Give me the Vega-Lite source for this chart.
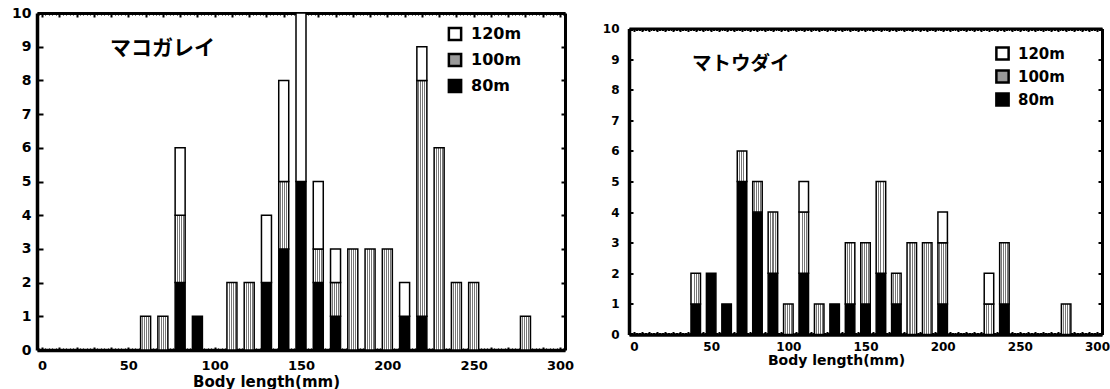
{
  "$schema": "https://vega.github.io/schema/vega-lite/v6.json",
  "background": "white",
  "padding": {"left": 11, "top": 6, "right": 0, "bottom": 0},
  "data": {"values": [
    {"species": "マコガレイ", "length": 60, "depth": "100m", "count": 1},
    {"species": "マコガレイ", "length": 70, "depth": "100m", "count": 1},
    {"species": "マコガレイ", "length": 80, "depth": "80m", "count": 2},
    {"species": "マコガレイ", "length": 80, "depth": "100m", "count": 2},
    {"species": "マコガレイ", "length": 80, "depth": "120m", "count": 2},
    {"species": "マコガレイ", "length": 90, "depth": "80m", "count": 1},
    {"species": "マコガレイ", "length": 110, "depth": "100m", "count": 2},
    {"species": "マコガレイ", "length": 120, "depth": "100m", "count": 2},
    {"species": "マコガレイ", "length": 130, "depth": "80m", "count": 2},
    {"species": "マコガレイ", "length": 130, "depth": "120m", "count": 2},
    {"species": "マコガレイ", "length": 140, "depth": "80m", "count": 3},
    {"species": "マコガレイ", "length": 140, "depth": "100m", "count": 2},
    {"species": "マコガレイ", "length": 140, "depth": "120m", "count": 3},
    {"species": "マコガレイ", "length": 150, "depth": "80m", "count": 5},
    {"species": "マコガレイ", "length": 150, "depth": "120m", "count": 5},
    {"species": "マコガレイ", "length": 160, "depth": "80m", "count": 2},
    {"species": "マコガレイ", "length": 160, "depth": "100m", "count": 1},
    {"species": "マコガレイ", "length": 160, "depth": "120m", "count": 2},
    {"species": "マコガレイ", "length": 170, "depth": "80m", "count": 1},
    {"species": "マコガレイ", "length": 170, "depth": "100m", "count": 1},
    {"species": "マコガレイ", "length": 170, "depth": "120m", "count": 1},
    {"species": "マコガレイ", "length": 180, "depth": "100m", "count": 3},
    {"species": "マコガレイ", "length": 190, "depth": "100m", "count": 3},
    {"species": "マコガレイ", "length": 200, "depth": "100m", "count": 3},
    {"species": "マコガレイ", "length": 210, "depth": "80m", "count": 1},
    {"species": "マコガレイ", "length": 210, "depth": "120m", "count": 1},
    {"species": "マコガレイ", "length": 220, "depth": "80m", "count": 1},
    {"species": "マコガレイ", "length": 220, "depth": "100m", "count": 7},
    {"species": "マコガレイ", "length": 220, "depth": "120m", "count": 1},
    {"species": "マコガレイ", "length": 230, "depth": "100m", "count": 6},
    {"species": "マコガレイ", "length": 240, "depth": "100m", "count": 2},
    {"species": "マコガレイ", "length": 250, "depth": "100m", "count": 2},
    {"species": "マコガレイ", "length": 280, "depth": "100m", "count": 1},
    {"species": "マトウダイ", "length": 40, "depth": "80m", "count": 1},
    {"species": "マトウダイ", "length": 40, "depth": "100m", "count": 1},
    {"species": "マトウダイ", "length": 50, "depth": "80m", "count": 2},
    {"species": "マトウダイ", "length": 60, "depth": "80m", "count": 1},
    {"species": "マトウダイ", "length": 70, "depth": "80m", "count": 5},
    {"species": "マトウダイ", "length": 70, "depth": "100m", "count": 1},
    {"species": "マトウダイ", "length": 80, "depth": "80m", "count": 4},
    {"species": "マトウダイ", "length": 80, "depth": "100m", "count": 1},
    {"species": "マトウダイ", "length": 90, "depth": "80m", "count": 2},
    {"species": "マトウダイ", "length": 90, "depth": "100m", "count": 2},
    {"species": "マトウダイ", "length": 100, "depth": "100m", "count": 1},
    {"species": "マトウダイ", "length": 110, "depth": "80m", "count": 2},
    {"species": "マトウダイ", "length": 110, "depth": "100m", "count": 2},
    {"species": "マトウダイ", "length": 110, "depth": "120m", "count": 1},
    {"species": "マトウダイ", "length": 120, "depth": "100m", "count": 1},
    {"species": "マトウダイ", "length": 130, "depth": "80m", "count": 1},
    {"species": "マトウダイ", "length": 140, "depth": "80m", "count": 1},
    {"species": "マトウダイ", "length": 140, "depth": "100m", "count": 2},
    {"species": "マトウダイ", "length": 150, "depth": "80m", "count": 1},
    {"species": "マトウダイ", "length": 150, "depth": "100m", "count": 2},
    {"species": "マトウダイ", "length": 160, "depth": "80m", "count": 2},
    {"species": "マトウダイ", "length": 160, "depth": "100m", "count": 3},
    {"species": "マトウダイ", "length": 170, "depth": "80m", "count": 1},
    {"species": "マトウダイ", "length": 170, "depth": "100m", "count": 1},
    {"species": "マトウダイ", "length": 180, "depth": "100m", "count": 3},
    {"species": "マトウダイ", "length": 190, "depth": "100m", "count": 3},
    {"species": "マトウダイ", "length": 200, "depth": "80m", "count": 1},
    {"species": "マトウダイ", "length": 200, "depth": "100m", "count": 2},
    {"species": "マトウダイ", "length": 200, "depth": "120m", "count": 1},
    {"species": "マトウダイ", "length": 230, "depth": "100m", "count": 1},
    {"species": "マトウダイ", "length": 230, "depth": "120m", "count": 1},
    {"species": "マトウダイ", "length": 240, "depth": "80m", "count": 1},
    {"species": "マトウダイ", "length": 240, "depth": "100m", "count": 2},
    {"species": "マトウダイ", "length": 280, "depth": "100m", "count": 1}
  ]},
  "spacing": 64,
  "bounds": "flush",
  "center": true,
  "resolve": {"scale": {"fill": "independent"}, "legend": {"fill": "independent"}},
  "hconcat": [
    {
      "width": 528,
      "height": 337,
      "title": {"text": "マコガレイ", "anchor": "start", "frame": "group", "dx": 73, "offset": -53, "font": "Noto Sans CJK JP", "fontSize": 21, "fontWeight": "bold", "color": "black"},
      "transform": [
        {"filter": "datum.species === 'マコガレイ'"},
        {"calculate": "indexof(['80m','100m','120m'], datum.depth)", "as": "ord"}
      ],
      "layer": [
        {
          "mark": {"type": "bar", "width": 10, "stroke": "black", "strokeWidth": 1.5},
          "encoding": {
            "x": {"field": "length", "type": "quantitative", "scale": {"domain": [0, 300], "nice": false, "zero": false},
              "axis": {"orient": "bottom", "title": "Body length(mm)", "tickCount": 30, "tickSize": -3, "tickWidth": 2, "labelPadding": 12, "labelExpr": "datum.value % 50 === 0 ? datum.label : ''", "labelOverlap": false, "labelFontSize": 13, "titleFontSize": 15, "titleX": 229, "titlePadding": 2, "domainWidth": 3.5}},
            "y": {"field": "count", "type": "quantitative", "stack": "zero", "scale": {"domain": [0, 10], "nice": false},
              "axis": {"orient": "left", "title": null, "tickCount": 10, "tickSize": -6, "tickWidth": 2, "labelPadding": 12, "labelFontSize": 14, "domainWidth": 3.5}},
            "order": {"field": "ord", "type": "quantitative"},
            "fill": {"field": "depth", "type": "nominal",
              "scale": {"domain": ["120m", "100m", "80m"], "range": ["white", "#999999", "black"]},
              "condition": {"test": "datum.depth === '100m'", "value":
                {"gradient": "linear", "x1": 0, "y1": 0, "x2": 1, "y2": 0, "stops": [
                  {"offset": 0, "color": "#ffffff"}, {"offset": 0.16, "color": "#ffffff"},
                  {"offset": 0.16, "color": "#777777"}, {"offset": 0.26, "color": "#777777"},
                  {"offset": 0.26, "color": "#ffffff"}, {"offset": 0.36, "color": "#ffffff"},
                  {"offset": 0.36, "color": "#777777"}, {"offset": 0.46, "color": "#777777"},
                  {"offset": 0.46, "color": "#ffffff"}, {"offset": 0.56, "color": "#ffffff"},
                  {"offset": 0.56, "color": "#777777"}, {"offset": 0.66, "color": "#777777"},
                  {"offset": 0.66, "color": "#ffffff"}, {"offset": 0.76, "color": "#ffffff"},
                  {"offset": 0.76, "color": "#777777"}, {"offset": 0.86, "color": "#777777"},
                  {"offset": 0.86, "color": "#ffffff"}, {"offset": 1, "color": "#ffffff"}]}},
              "legend": {"orient": "none", "legendX": 410, "legendY": 13, "title": null, "padding": 0, "symbolType": "square", "symbolSize": 150, "labelFontSize": 16, "labelOffset": 8, "rowPadding": 2, "labelExpr": "datum.label === '80m' ? '\u00a0\u00a080m' : datum.label",
                "encoding": {"symbols": {
                  "fill": {"condition": [
                    {"test": "datum.value === '100m'", "value": {"gradient": "linear", "x1": 0, "y1": 0, "x2": 1, "y2": 0, "stops": [
                      {"offset": 0, "color": "#ffffff"}, {"offset": 0.16, "color": "#ffffff"},
                      {"offset": 0.16, "color": "#777777"}, {"offset": 0.26, "color": "#777777"},
                      {"offset": 0.26, "color": "#ffffff"}, {"offset": 0.36, "color": "#ffffff"},
                      {"offset": 0.36, "color": "#777777"}, {"offset": 0.46, "color": "#777777"},
                      {"offset": 0.46, "color": "#ffffff"}, {"offset": 0.56, "color": "#ffffff"},
                      {"offset": 0.56, "color": "#777777"}, {"offset": 0.66, "color": "#777777"},
                      {"offset": 0.66, "color": "#ffffff"}, {"offset": 0.76, "color": "#ffffff"},
                      {"offset": 0.76, "color": "#777777"}, {"offset": 0.86, "color": "#777777"},
                      {"offset": 0.86, "color": "#ffffff"}, {"offset": 1, "color": "#ffffff"}]}},
                    {"test": "datum.value === '120m'", "value": "white"}], "value": "black"},
                  "stroke": {"value": "black"},
                  "strokeWidth": {"value": 2.5},
                  "opacity": {"value": 1}}}}}
          }
        },
        {
          "mark": {"type": "bar", "width": 10, "opacity": 0},
          "encoding": {
            "x": {"field": "length", "type": "quantitative", "scale": {"domain": [0, 300], "nice": false, "zero": false},
              "axis": {"orient": "top", "title": null, "labels": false, "tickCount": 30, "tickSize": -4, "tickWidth": 2, "domainWidth": 3}},
            "y": {"field": "count", "type": "quantitative", "stack": "zero", "scale": {"domain": [0, 10], "nice": false},
              "axis": {"orient": "right", "title": null, "labels": false, "tickCount": 10, "tickSize": -4, "tickWidth": 2, "domainWidth": 3}}
          }
        },
        {
          "mark": {"type": "bar", "width": 10, "opacity": 0},
          "encoding": {
            "x": {"field": "length", "type": "quantitative", "scale": {"domain": [0, 300], "nice": false, "zero": false},
              "axis": {"orient": "top", "title": null, "labels": false, "domain": false, "tickCount": 150, "tickSize": -2, "tickWidth": 1}},
            "y": {"field": "count", "type": "quantitative", "stack": "zero", "scale": {"domain": [0, 10], "nice": false}, "axis": null}
          }
        },
        {
          "mark": {"type": "bar", "width": 10, "opacity": 0},
          "encoding": {
            "x": {"field": "length", "type": "quantitative", "scale": {"domain": [0, 300], "nice": false, "zero": false},
              "axis": {"orient": "bottom", "title": null, "labels": false, "domain": false, "tickCount": 150, "tickSize": -2, "tickWidth": 1}},
            "y": {"field": "count", "type": "quantitative", "stack": "zero", "scale": {"domain": [0, 10], "nice": false}, "axis": null}
          }
        }
      ],
      "resolve": {"axis": {"x": "independent", "y": "independent"}}
    },
    {
      "width": 473,
      "height": 306,
      "title": {"text": "マトウダイ", "anchor": "start", "frame": "group", "dx": 63, "offset": -52, "font": "Noto Sans CJK JP", "fontSize": 19.5, "fontWeight": "bold", "color": "black"},
      "transform": [
        {"filter": "datum.species === 'マトウダイ'"},
        {"calculate": "indexof(['80m','100m','120m'], datum.depth)", "as": "ord"}
      ],
      "layer": [
        {
          "mark": {"type": "bar", "width": 9.5, "stroke": "black", "strokeWidth": 1.5},
          "encoding": {
            "x": {"field": "length", "type": "quantitative", "scale": {"domain": [0, 300], "nice": false, "zero": false},
              "axis": {"orient": "bottom", "title": "Body length(mm)", "tickCount": 60, "tickSize": -3, "tickWidth": 2, "labelPadding": 10, "labelExpr": "datum.value % 50 === 0 ? datum.label : ''", "labelOverlap": false, "labelFontSize": 12, "titleFontSize": 14, "titleX": 207, "titlePadding": 1, "domainWidth": 3.5}},
            "y": {"field": "count", "type": "quantitative", "stack": "zero", "scale": {"domain": [0, 10], "nice": false},
              "axis": {"orient": "left", "title": null, "tickCount": 10, "tickSize": -4, "tickWidth": 2, "labelPadding": 14, "labelFontSize": 12, "domainWidth": 3.5}},
            "order": {"field": "ord", "type": "quantitative"},
            "fill": {"field": "depth", "type": "nominal",
              "scale": {"domain": ["120m", "100m", "80m"], "range": ["white", "#999999", "black"]},
              "condition": {"test": "datum.depth === '100m'", "value":
                {"gradient": "linear", "x1": 0, "y1": 0, "x2": 1, "y2": 0, "stops": [
                  {"offset": 0, "color": "#ffffff"}, {"offset": 0.16, "color": "#ffffff"},
                  {"offset": 0.16, "color": "#777777"}, {"offset": 0.26, "color": "#777777"},
                  {"offset": 0.26, "color": "#ffffff"}, {"offset": 0.36, "color": "#ffffff"},
                  {"offset": 0.36, "color": "#777777"}, {"offset": 0.46, "color": "#777777"},
                  {"offset": 0.46, "color": "#ffffff"}, {"offset": 0.56, "color": "#ffffff"},
                  {"offset": 0.56, "color": "#777777"}, {"offset": 0.66, "color": "#777777"},
                  {"offset": 0.66, "color": "#ffffff"}, {"offset": 0.76, "color": "#ffffff"},
                  {"offset": 0.76, "color": "#777777"}, {"offset": 0.86, "color": "#777777"},
                  {"offset": 0.86, "color": "#ffffff"}, {"offset": 1, "color": "#ffffff"}]}},
              "legend": {"orient": "none", "legendX": 366, "legendY": 17.5, "title": null, "padding": 0, "symbolType": "square", "symbolSize": 150, "labelFontSize": 15, "labelOffset": 8, "rowPadding": 0, "labelExpr": "datum.label === '80m' ? '\u00a0\u00a080m' : datum.label",
                "encoding": {"symbols": {
                  "fill": {"condition": [
                    {"test": "datum.value === '100m'", "value": {"gradient": "linear", "x1": 0, "y1": 0, "x2": 1, "y2": 0, "stops": [
                      {"offset": 0, "color": "#ffffff"}, {"offset": 0.16, "color": "#ffffff"},
                      {"offset": 0.16, "color": "#777777"}, {"offset": 0.26, "color": "#777777"},
                      {"offset": 0.26, "color": "#ffffff"}, {"offset": 0.36, "color": "#ffffff"},
                      {"offset": 0.36, "color": "#777777"}, {"offset": 0.46, "color": "#777777"},
                      {"offset": 0.46, "color": "#ffffff"}, {"offset": 0.56, "color": "#ffffff"},
                      {"offset": 0.56, "color": "#777777"}, {"offset": 0.66, "color": "#777777"},
                      {"offset": 0.66, "color": "#ffffff"}, {"offset": 0.76, "color": "#ffffff"},
                      {"offset": 0.76, "color": "#777777"}, {"offset": 0.86, "color": "#777777"},
                      {"offset": 0.86, "color": "#ffffff"}, {"offset": 1, "color": "#ffffff"}]}},
                    {"test": "datum.value === '120m'", "value": "white"}], "value": "black"},
                  "stroke": {"value": "black"},
                  "strokeWidth": {"value": 2.5},
                  "opacity": {"value": 1}}}}}
          }
        },
        {
          "mark": {"type": "bar", "width": 9.5, "opacity": 0},
          "encoding": {
            "x": {"field": "length", "type": "quantitative", "scale": {"domain": [0, 300], "nice": false, "zero": false},
              "axis": {"orient": "top", "title": null, "labels": false, "tickCount": 60, "tickSize": -3, "tickWidth": 2, "domainWidth": 3}},
            "y": {"field": "count", "type": "quantitative", "stack": "zero", "scale": {"domain": [0, 10], "nice": false},
              "axis": {"orient": "right", "title": null, "labels": false, "tickCount": 10, "tickSize": -4, "tickWidth": 2, "domainWidth": 3}}
          }
        },
        {
          "mark": {"type": "bar", "width": 9.5, "opacity": 0},
          "encoding": {
            "x": {"field": "length", "type": "quantitative", "scale": {"domain": [0, 300], "nice": false, "zero": false},
              "axis": {"orient": "top", "title": null, "labels": false, "domain": false, "tickCount": 300, "tickSize": -2, "tickWidth": 1}},
            "y": {"field": "count", "type": "quantitative", "stack": "zero", "scale": {"domain": [0, 10], "nice": false}, "axis": null}
          }
        },
        {
          "mark": {"type": "bar", "width": 9.5, "opacity": 0},
          "encoding": {
            "x": {"field": "length", "type": "quantitative", "scale": {"domain": [0, 300], "nice": false, "zero": false},
              "axis": {"orient": "bottom", "title": null, "labels": false, "domain": false, "tickCount": 300, "tickSize": -2, "tickWidth": 1}},
            "y": {"field": "count", "type": "quantitative", "stack": "zero", "scale": {"domain": [0, 10], "nice": false}, "axis": null}
          }
        }
      ],
      "resolve": {"axis": {"x": "independent", "y": "independent"}}
    }
  ],
  "config": {
    "view": {"stroke": null},
    "axis": {"labelFont": "DejaVu Sans", "labelFontWeight": "bold", "labelColor": "black", "titleFont": "DejaVu Sans", "titleFontWeight": "bold", "titleColor": "black", "domainColor": "black", "tickColor": "black", "grid": false},
    "legend": {"labelFont": "DejaVu Sans", "labelFontWeight": "bold", "labelColor": "black"}
  }
}
